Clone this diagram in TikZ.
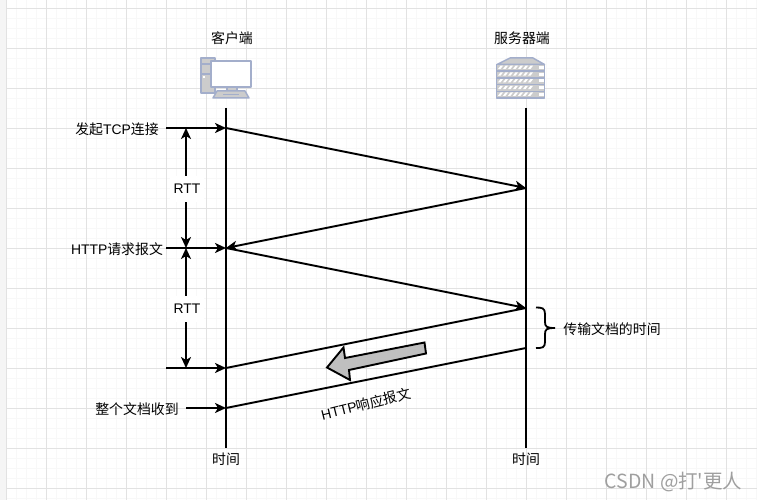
\documentclass[tikz,border=0pt]{standalone}
\usepackage{fontspec}
\setmainfont{Liberation Sans}
\newfontfamily\cjk{Noto Sans CJK SC}
\newcommand{\zh}[1]{{\cjk #1}}
\usetikzlibrary{arrows.meta}
\definecolor{gridmajor}{HTML}{E2E2E2}
\definecolor{gridminor}{HTML}{F8F8F8}
\definecolor{iconline}{HTML}{A3AECB}
\definecolor{iconfill}{HTML}{CCCCCC}
\tikzset{
    msg/.style={line width=1.9pt, -{Stealth[length=11pt,width=10pt,inset=3pt]}},
    plainline/.style={line width=1.9pt},
    rttarrow/.style={line width=1.9pt, {Stealth[length=11pt,width=10pt,inset=3pt]}-{Stealth[length=11pt,width=10pt,inset=3pt]}},
    lbl/.style={font=\fontsize{13.9}{15}\selectfont, inner sep=0pt},
    rttlbl/.style={font=\fontsize{13.9}{15}\selectfont, fill=white, inner xsep=4pt, inner ysep=8pt},
    icon/.style={draw=iconline, fill=iconfill, line width=1.5pt, line join=round}
}
\begin{document}
\begin{tikzpicture}[x=1pt, y=-1pt]
    \useasboundingbox (0,0) rectangle (757,500);
    \fill[white] (0,0) rectangle (757,500);
    \fill[gray!8] (0,0) rectangle (6,500);
    \foreach \i in {0,...,75} \draw[gridminor, line width=0.7pt] ({6.5+10*\i},0) -- ({6.5+10*\i},500);
    \foreach \i in {0,...,49} \draw[gridminor, line width=0.7pt] (6,{8.5+10*\i}) -- (757,{8.5+10*\i});
    \foreach \i in {0,...,18} \draw[gridmajor, line width=0.8pt] ({6.5+40*\i},0) -- ({6.5+40*\i},500);
    \foreach \i in {0,...,12} \draw[gridmajor, line width=0.8pt] (6,{8.5+40*\i}) -- (757,{8.5+40*\i});

    \coordinate (clientTop) at (226,108);
    \coordinate (clientEnd) at (226,448);
    \coordinate (serverTop) at (526,108);
    \coordinate (serverEnd) at (526,448);
    \coordinate (c1) at (226,128);
    \coordinate (c2) at (226,248);
    \coordinate (c3) at (226,368);
    \coordinate (c4) at (226,408);
    \coordinate (s1) at (526,188);
    \coordinate (s2) at (526,308);
    \coordinate (s3) at (526,348);
    \coordinate (in1) at (166,128);
    \coordinate (in2) at (166,248);
    \coordinate (in3) at (166,368);
    \coordinate (in4) at (186,408);
    \coordinate (r1) at (186,128);
    \coordinate (r2) at (186,248);
    \coordinate (r3) at (186,368);

    \draw[plainline] (clientTop) -- (clientEnd);
    \draw[plainline] (serverTop) -- (serverEnd);
    \draw[msg] (c1) -- (s1);
    \draw[msg] (s1) -- (c2);
    \draw[msg] (c2) -- (s2);
    \draw[plainline] (s2) -- (c3);
    \draw[plainline] (s3) -- (c4);
    \draw[msg] (in1) -- (c1);
    \draw[msg] (in2) -- (c2);
    \draw[msg] (in3) -- (c3);
    \draw[msg] (in4) -- (c4);
    \draw[rttarrow] (r1) -- node[rttlbl, xshift=1pt, yshift=-1.2pt] (rttA) {RTT} (r2);
    \draw[rttarrow] (r2) -- node[rttlbl, xshift=1pt, yshift=-1.2pt] (rttB) {RTT} (r3);

    \draw[line width=1.9pt, line join=miter, fill=black!25] (424.5,342.5) -- (426,353.5) -- (349,370) -- (350,380) -- (327,367.5)
        -- (343.5,347.5) -- (345,358) -- cycle;
    \draw[line width=1.8pt] (536,307.5) .. controls (542,307.5) and (545,308) .. (545,314) -- (545,322)
        .. controls (545,327) and (547,328) .. (555,328) .. controls (547,328) and (545,329) .. (545,334) -- (545,342)
        .. controls (545,348) and (542,348) .. (536,348);

    \node[lbl] (client) at (232,38.5) {\zh{客户端}};
    \node[lbl] (server) at (522,38.5) {\zh{服务器端}};
    \node[lbl] (connect) at (117,129) {\zh{发起}TCP\zh{连接}};
    \node[lbl] (request) at (117,249.5) {HTTP\zh{请求报文}};
    \node[lbl] (received) at (137,409) {\zh{整个文档收到}};
    \node[lbl] (timeA) at (226,459) {\zh{时间}};
    \node[lbl] (timeB) at (526,459) {\zh{时间}};
    \node[lbl] (transfer) at (612,329) {\zh{传输文档的时间}};
    \node[lbl, rotate=14] (response) at (366,404) {HTTP\zh{响应报文}};
    \node[font=\fontsize{19.5}{21}\selectfont\cjk, text=gray!75, inner sep=0pt] (mark) at (673.5,482) {CSDN @打'更人};

    \draw[icon] (201,58) -- (215,58) -- (215,93) -- (201,93) -- cycle;
    \draw[icon] (201,64) -- (215,64) (201,74) -- (211,74);
    \fill[white] (203,76) rectangle (205,78);
    \draw[icon, fill=white] (211,61) rectangle (251,87);
    \draw[icon] (227,87) rectangle (237,91);
    \draw[icon] (217,91) -- (245,91) -- (249,98) -- (213,98) -- cycle;
    \draw[iconline, line width=1.1pt] (223,94.5) -- (239,94.5);

    \draw[icon] (497,64.5) -- (510,58) -- (533,58) -- (544.5,64.5) -- cycle;
    \foreach \y in {64.5,71.2,77.9,84.6,91.3} {
        \draw[icon] (496.5,\y) rectangle (544.5,{\y+6.7});
        \foreach \k in {0,...,6} \fill[white] ({498+\k*5},{\y+4.5}) -- ({500.5+\k*5},{\y+4.5}) -- ({503+\k*5},{\y+1.2}) -- ({500.5+\k*5},{\y+1.2}) -- cycle;
        \fill[white] (539,{\y+1.5}) rectangle (543.5,{\y+4.5});
    }
\end{tikzpicture}
\end{document}
